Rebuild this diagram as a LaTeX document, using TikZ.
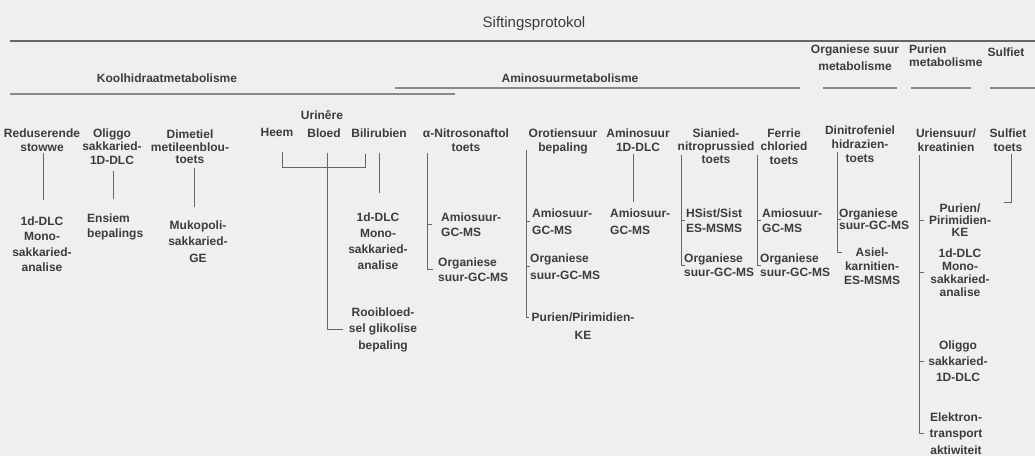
\documentclass[tikz,border=0pt]{standalone}
\usepackage{fontspec}
\setmainfont{Liberation Sans}
\usetikzlibrary{calc}
\definecolor{bg}{HTML}{EFEFEF}
\definecolor{ink}{HTML}{3C3C3C}
\definecolor{conncol}{HTML}{666666}
\definecolor{rulecol}{HTML}{8A8A8A}
\tikzset{
  txt/.style={inner sep=0pt, text=ink, align=center, anchor=north,
    font=\bfseries\fontsize{12}{#1}\selectfont},
  txt/.default=14.5,
  txtl/.style={txt=#1, align=left, anchor=north west},
  txtl/.default=15,
  head/.style={inner sep=0pt, text=ink, align=center,
    font=\bfseries\fontsize{12}{#1}\selectfont},
  head/.default=14,
  conn/.style={draw=conncol, line width=0.9pt},
  hline/.style={draw=rulecol, line width=1.8pt},
  topline/.style={draw=conncol, line width=1.4pt},
}
\begin{document}
\begin{tikzpicture}[x=1pt,y=-1pt]
\fill[bg] (0,0) rectangle (1035,456);
\useasboundingbox (0,0) rectangle (1035,456);

% title and headings
\node[inner sep=0pt, text=ink, font=\fontsize{15}{18}\selectfont] (title) at (534,24) {Siftingsprotokol};
\draw[topline] (10,41) -- (1035,41);

\node[head] (hK) at (167,78) {Koolhidraatmetabolisme};
\draw[hline] (10,94) -- (455,94);
\node[head] (hA) at (570,78) {Aminosuurmetabolisme};
\draw[hline] (395,88) -- (800,88);
\node[head=17, anchor=north] (hO) at (855,45) {Organiese suur\\metabolisme};
\draw[hline] (823,88) -- (897,88);
\node[head=13, align=left, anchor=north west] (hP) at (909,45) {Purien\\metabolisme};
\draw[hline] (911,88) -- (971,88);
\node[head] (hS) at (1006,52) {Sulfiet};
\draw[hline] (990,88) -- (1035,88);

% column 1
\node[txt=14] (c1) at (42,128.5) {Reduserende\\stowwe};
\node[txt=15.3] (c1b) at (42,216.5) {1d-DLC\\Mono-\\sakkaried-\\analise};
\draw[conn] ([xshift=1pt,yshift=-1pt]c1.south) -- ++(0,47);

% column 2
\node[txt=13.5] (c2) at (112,128.5) {Oliggo\\sakkaried-\\1D-DLC};
\node[txtl=15] (c2b) at (87,213.5) {Ensiem\\bepalings};
\draw[conn] ([xshift=1pt,yshift=-6pt]c2.south) -- ++(0,28);

% column 3
\node[txt=12.5] (c3) at (190,130) {Dimetiel\\metileenblou-\\toets};
\node[txt=16.5] (c3b) at (198,220.5) {Mukopoli-\\sakkaried-\\GE};
\draw[conn] ([xshift=4pt,yshift=-4pt]c3.south) -- ++(0,39);

% column 4 (Urinere)
\node[txt] (c4u) at (322,110.5) {Urinêre};
\node[txt] (c4h) at (277,128.5) {Heem};
\node[txt] (c4b) at (324,128.5) {Bloed};
\node[txt] (c4r) at (379,128.5) {Bilirubien};
\node[txt=16] (c4x) at (378,212.5) {1d-DLC\\Mono-\\sakkaried-\\analise};
\node[txt=16.5] (c4y) at (383,307.5) {Rooibloed-\\sel glikolise\\bepaling};
\draw[conn] ([xshift=5pt,yshift=-15pt]c4h.south) |- ([xshift=-14pt,yshift=-30pt]c4r.south) -- ++(0,-14);
\draw[conn] ([xshift=3pt,yshift=-15pt]c4b.south) |- ([xshift=-6pt]c4y.west);
\draw[conn] ([yshift=-15pt]c4r.south) -- ++(0,40);

% column 5
\node[txt=14] (c5) at (466,128.5) {α-Nitrosonaftol\\toets};
\node[txtl=15] (c5a) at (441,212.5) {Amiosuur-\\GC-MS};
\node[txtl=15] (c5b) at (438,257.5) {Organiese\\suur-GC-MS};
\coordinate (b5) at (427,153);
\draw[conn] (b5) -- (b5 |- c5b.west) -- ++(6,0);
\draw[conn] (b5 |- c5a.west) -- ++(5,0);

% column 6
\node[txt=14] (c6) at (563,128.5) {Orotiensuur\\bepaling};
\node[txtl=17] (c6a) at (532,208.5) {Amiosuur-\\GC-MS};
\node[txtl=17] (c6b) at (530,253.5) {Organiese\\suur-GC-MS};
\node[txt=18] (c6c) at (583,312.5) {Purien/Pirimidien-\\KE};
\coordinate (b6) at (526,150);
\draw[conn] (b6) |- ([xshift=-2pt,yshift=-4.5pt]c6c.north west);
\draw[conn] (b6 |- c6a.west) -- ++(4,0);
\draw[conn] (b6 |- c6b.west) -- ++(4,0);

% column 7
\node[txt=14] (c7) at (638,128.5) {Aminosuur\\1D-DLC};
\node[txtl=17] (c7a) at (610,208.5) {Amiosuur-\\GC-MS};
\draw[conn] ([xshift=-5pt,yshift=-2pt]c7.south) -- ++(0,48);

% column 8
\node[txt=13] (c8) at (716,128.5) {Sianied-\\nitroprussied\\toets};
\node[txtl=15] (c8a) at (686,208.5) {HSist/Sist\\ES-MSMS};
\node[txtl=14] (c8b) at (684,253.5) {Organiese\\suur-GC-MS};
\coordinate (b8) at (681,155);
\draw[conn] (b8) -- (b8 |- c8b.west) -- ++(4,0);
\draw[conn] (b8 |- c8a.west) -- ++(4,0);

% column 9
\node[txt=13.5] (c9) at (784,128.5) {Ferrie\\chloried\\toets};
\node[txtl=15] (c9a) at (762,208.5) {Amiosuur-\\GC-MS};
\node[txtl=14] (c9b) at (760,253.5) {Organiese\\suur-GC-MS};
\coordinate (b9) at (757,155);
\draw[conn] (b9) -- (b9 |- c9b.west) -- ++(4,0);
\draw[conn] (b9 |- c9a.west) -- ++(4,0);

% column 10
\node[txt=14] (c10) at (860,126) {Dinitrofeniel\\hidrazien-\\toets};
\node[txtl=12.5] (c10a) at (839,208.5) {Organiese\\suur-GC-MS};
\node[txt=14] (c10b) at (872,247.5) {Asiel-\\karnitien-\\ES-MSMS};
\coordinate (b10) at (837,152);
\draw[conn] (b10) |- ([xshift=-2pt,yshift=-4.5pt]c10b.north west);
\draw[conn] (b10 |- c10a.west) -- ++(4,0);

% column 11
\node[txt=14] (c11) at (946,128.5) {Uriensuur/\\kreatinien};
\node[txt=12] (c11a) at (960,203.5) {Purien/\\Pirimidien-\\KE};
\node[txt=13] (c11b) at (960,248.5) {1d-DLC\\Mono-\\sakkaried-\\analise};
\node[txt=16] (c11c) at (958,340.5) {Oliggo\\sakkaried-\\1D-DLC};
\node[txt=16.5] (c11d) at (956,412.5) {Elektron-\\transport\\aktiwiteit};
\coordinate (b11) at (919,155);
\draw[conn] (b11) -- (b11 |- c11d.west) -- ++(5,0);
\draw[conn] (b11 |- c11a.west) -- ++(5,0);
\draw[conn] (b11 |- c11b.west) -- ++(5,0);
\draw[conn] (b11 |- c11c.west) -- ++(5,0);

% column 12
\node[txt=14] (c12) at (1008,128.5) {Sulfiet\\toets};
\coordinate (sulE) at (1004,202);
\draw[conn] ([xshift=3pt,yshift=-2pt]c12.south) |- (sulE);
\end{tikzpicture}
\end{document}
